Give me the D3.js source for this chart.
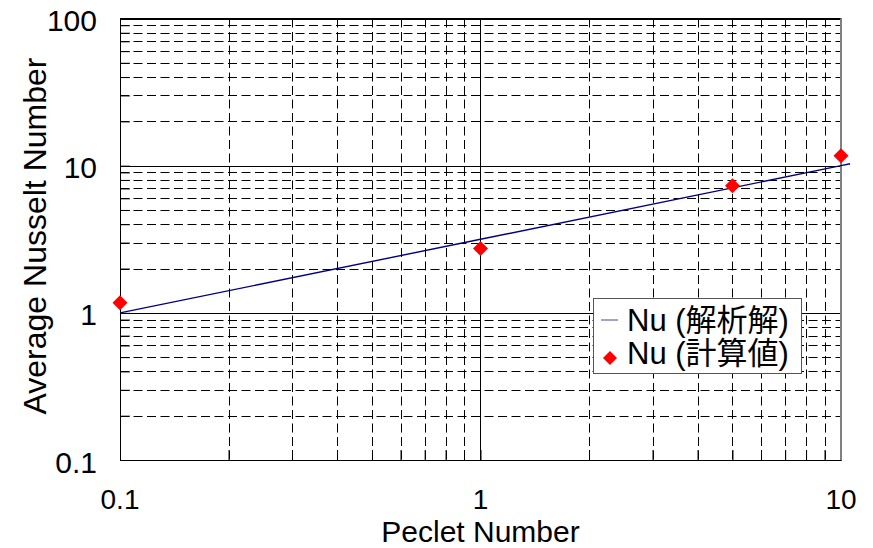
<!DOCTYPE html>
<html>
<head>
<meta charset="utf-8">
<script src="https://cdn.jsdelivr.net/npm/d3@7"></script>
<style>
  html, body { margin: 0; padding: 0; background: #fff; }
  svg { display: block; }
  text { font-family: "Liberation Sans", Arial, "Noto Sans CJK JP", sans-serif; fill: #000; }
</style>
</head>
<body>
<svg id="chart" width="873" height="548"></svg>
<script>
// Analytical solution (line) and computed values (markers)
const analyticPe = [0.1, 1, 10, 10.6];
const analyticNu = [1.0, 3.16, 10.0, 10.3];
const calcPe = [0.1, 1, 5, 10];
const calcNu = [1.17, 2.74, 7.29, 11.66];

const xTickValues = [0.1, 1, 10];
const xTickLabels = ["0.1", "1", "10"];
const yTickValues = [0.1, 1, 10, 100];
const yTickLabels = ["0.1", "1", "10", "100"];

const seriesNames = ["Nu (解析解)", "Nu (計算値)"];
const xTitle = "Peclet Number";
const yTitle = "Average Nusselt Number";

const svg = d3.select("#chart");
const plotL = 120, plotR = 841, plotT = 18.5, plotB = 460;

const x = d3.scaleLog().domain([0.1, 10]).range([plotL, plotR]);
const y = d3.scaleLog().domain([0.1, 100]).range([plotB, plotT]);

// minor values for each decade
function minors(domain) {
  const out = [];
  for (let e = Math.round(Math.log10(domain[0])); e < Math.round(Math.log10(domain[1])); e++) {
    for (let k = 2; k <= 9; k++) out.push(k * Math.pow(10, e));
  }
  return out;
}
const xMinor = minors(x.domain());
const yMinor = minors(y.domain());

const grid = svg.append("g");

// dashed minor grid
grid.selectAll("line.xm").data(xMinor).join("line")
  .attr("x1", d => Math.round(x(d)) + 0.5).attr("x2", d => Math.round(x(d)) + 0.5)
  .attr("y1", plotT).attr("y2", plotB)
  .attr("stroke", "#000").attr("stroke-width", 1).attr("stroke-dasharray", "9,4.5");
grid.selectAll("line.ym").data(yMinor).join("line")
  .attr("y1", d => Math.round(y(d)) + 0.5).attr("y2", d => Math.round(y(d)) + 0.5)
  .attr("x1", plotL).attr("x2", plotR)
  .attr("stroke", "#000").attr("stroke-width", 1).attr("stroke-dasharray", "9,4.5");

// solid major grid
grid.selectAll("line.xM").data(xTickValues).join("line")
  .attr("x1", d => Math.round(x(d)) + 0.5).attr("x2", d => Math.round(x(d)) + 0.5)
  .attr("y1", plotT).attr("y2", plotB)
  .attr("stroke", "#000").attr("stroke-width", 1);
grid.selectAll("line.yM").data(yTickValues).join("line")
  .attr("y1", d => Math.round(y(d)) + 0.5).attr("y2", d => Math.round(y(d)) + 0.5)
  .attr("x1", plotL).attr("x2", plotR)
  .attr("stroke", "#000").attr("stroke-width", 1);

// inside ticks via d3 axes
const xAxis = d3.axisBottom(x).tickValues(xMinor.concat(xTickValues)).tickSize(-10).tickFormat("");
const yAxis = d3.axisLeft(y).tickValues(yMinor.concat(yTickValues)).tickSize(-10).tickFormat("");
svg.append("g").attr("transform", `translate(0,${plotB})`).call(xAxis)
  .call(g => g.select(".domain").attr("stroke", "#000"))
  .call(g => g.selectAll(".tick line").attr("stroke", "#000"));
svg.append("g").attr("transform", `translate(${plotL},0)`).call(yAxis)
  .call(g => g.select(".domain").attr("stroke", "#000"))
  .call(g => g.selectAll(".tick line").attr("stroke", "#000"));

// frame: top and right edges
svg.append("line").attr("x1", plotL).attr("x2", plotR).attr("y1", plotT).attr("y2", plotT)
  .attr("stroke", "#000").attr("stroke-width", 1.2);
svg.append("line").attr("x1", plotR).attr("x2", plotR).attr("y1", plotT).attr("y2", plotB)
  .attr("stroke", "#808080").attr("stroke-width", 2);

// tick labels
svg.append("g").selectAll("text").data(yTickValues).join("text")
  .attr("x", 97).attr("y", d => y(d) + 2)
  .attr("text-anchor", "end").attr("dominant-baseline", "central")
  .attr("font-size", 30)
  .text((d, i) => yTickLabels[i]);
svg.append("g").selectAll("text").data(xTickValues).join("text")
  .attr("x", d => x(d)).attr("y", 508.5)
  .attr("text-anchor", "middle")
  .attr("font-size", 28)
  .text((d, i) => xTickLabels[i]);

// axis titles
svg.append("text").attr("x", (plotL + plotR) / 2).attr("y", 541.6)
  .attr("text-anchor", "middle").attr("font-size", 30).text(xTitle);
svg.append("text")
  .attr("transform", `translate(46,236) rotate(-90)`)
  .attr("text-anchor", "middle").attr("font-size", 32).text(yTitle);

// analytical line
const line = d3.line().x((d, i) => x(analyticPe[i])).y(d => y(d));
svg.append("path").datum(analyticNu).attr("d", line)
  .attr("fill", "none").attr("stroke", "#000080").attr("stroke-width", 1.4);

// computed markers
const diamond = s => `M0,${-s}L${s},0L0,${s}L${-s},0Z`;
svg.append("g").selectAll("path").data(calcNu).join("path")
  .attr("transform", (d, i) => `translate(${x(calcPe[i])},${y(d)})`)
  .attr("d", diamond(7.5)).attr("fill", "#ff0000");

// legend
const lg = svg.append("g");
lg.append("rect").attr("x", 593.5).attr("y", 298.5).attr("width", 208).attr("height", 75)
  .attr("fill", "#fff").attr("stroke", "#555").attr("stroke-width", 1);
lg.append("line").attr("x1", 601).attr("x2", 618).attr("y1", 320).attr("y2", 320)
  .attr("stroke", "#000080").attr("stroke-width", 1.2).attr("opacity", 0.6);
lg.append("path").attr("transform", "translate(610,358)").attr("d", diamond(7)).attr("fill", "#ff0000");
lg.selectAll("text").data(seriesNames).join("text")
  .attr("x", 627).attr("y", (d, i) => 331 + i * 33)
  .attr("font-size", 31).text(d => d);
</script>
</body>
</html>
